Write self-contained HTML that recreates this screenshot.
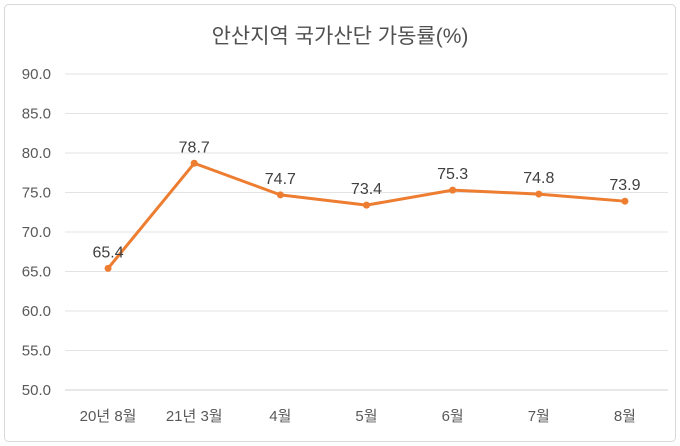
<!DOCTYPE html>
<html><head><meta charset="utf-8"><style>
html,body{margin:0;padding:0;background:#fff;width:680px;height:446px;overflow:hidden}
svg text{font-family:"Liberation Sans","Noto Sans CJK KR",sans-serif}
</style></head><body>
<svg id="chart" width="680" height="446" xmlns="http://www.w3.org/2000/svg">
<rect x="4.5" y="4.5" width="671" height="437" rx="4" fill="#fff" stroke="#d9d9d9"/>
<text x="340" y="43" text-anchor="middle" font-size="21" fill="#505050">안산지역 국가산단 가동률(%)</text>
<g id="grid"></g><g id="yt"></g><g id="xt"></g><g id="series"></g>
</svg>
<script>
const categories=["20년 8월","21년 3월","4월","5월","6월","7월","8월"];
const values=[65.4,78.7,74.7,73.4,75.3,74.8,73.9];
const yTicks=[50,55,60,65,70,75,80,85,90];
const ns="http://www.w3.org/2000/svg";
const x0=65,x1=668,yTop=74,yBot=390,yMin=50,yMax=90;
const bw=(x1-x0)/categories.length;
const X=i=>x0+bw*(i+0.5);
const Y=v=>yBot-(v-yMin)/(yMax-yMin)*(yBot-yTop);
function mk(t,a,p){const e=document.createElementNS(ns,t);for(const k in a)e.setAttribute(k,a[k]);p.appendChild(e);return e;}
const grid=document.getElementById('grid'),yt=document.getElementById('yt'),xt=document.getElementById('xt'),s=document.getElementById('series');
yTicks.forEach(v=>{
 const l=mk('line',{x1:x0,x2:x1,y1:Y(v),y2:Y(v),stroke:v===yMin?'#d0d0d0':'#e3e3e3','stroke-width':1},grid);
 
 
 const t=mk('text',{x:51,y:Y(v)+5,'text-anchor':'end','font-size':15,fill:'#595959'},yt);
 t.textContent=v.toFixed(1);
 
 
});
categories.forEach((c,i)=>{
 const t=mk('text',{x:X(i),y:421,'text-anchor':'middle','font-size':15,fill:'#595959'},xt);
 t.textContent=c;
 
 
});
const pl=mk('polyline',{points:values.map((v,i)=>X(i)+','+Y(v)).join(' '),fill:'none',stroke:'#ed7d31','stroke-width':3,'stroke-linejoin':'round'},s);


values.forEach((v,i)=>{
 const c=mk('circle',{cx:X(i),cy:Y(v),r:3.5,fill:'#ed7d31'},s);
 
 
 const t=mk('text',{x:X(i),y:Y(v)-11,'text-anchor':'middle','font-size':16,fill:'#404040'},s);
 t.textContent=v.toFixed(1);
 
 
});
</script>
</body></html>
